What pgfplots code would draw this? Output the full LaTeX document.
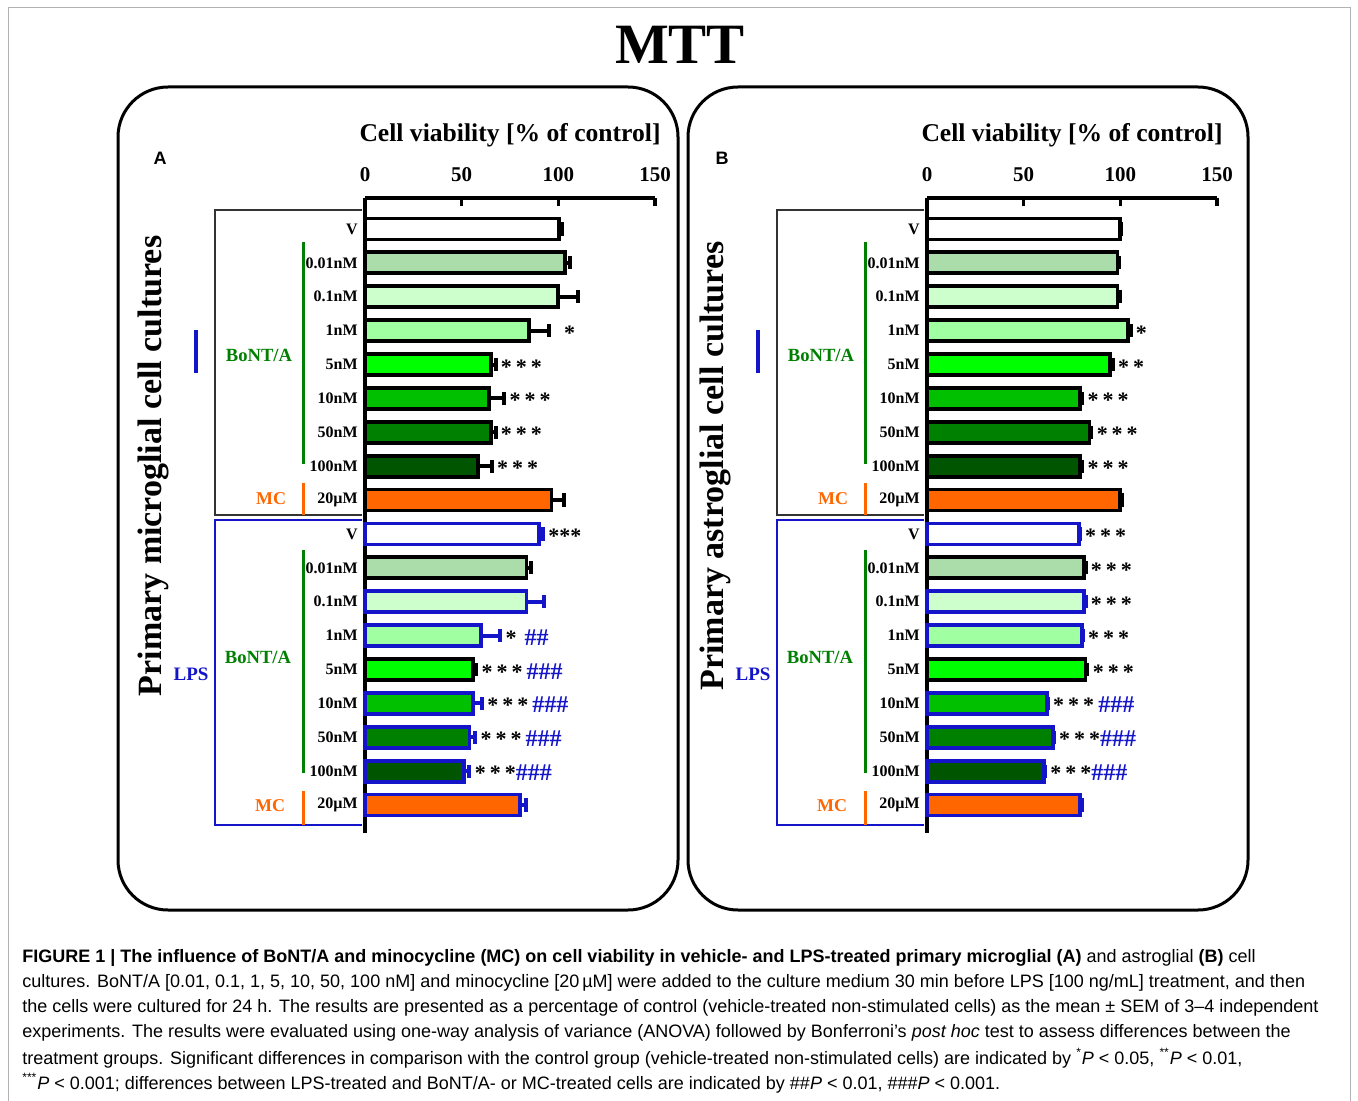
\documentclass[border=0pt]{standalone}
\usepackage{fontspec}
\setmainfont{Liberation Serif}
\newfontfamily\capfont{Liberation Sans}
\usepackage{pgfplots}
\pgfplotsset{compat=1.18}

\definecolor{lpsblue}{RGB}{20,20,200}
\definecolor{bgreen}{RGB}{0,128,0}
\definecolor{mcor}{RGB}{255,102,0}
\definecolor{cA}{RGB}{170,221,170}
\definecolor{cB}{RGB}{204,255,204}
\definecolor{cC}{RGB}{160,255,160}
\definecolor{cD}{RGB}{0,255,0}
\definecolor{cE}{RGB}{0,192,0}
\definecolor{cF}{RGB}{0,128,0}
\definecolor{cG}{RGB}{0,85,0}

\newcommand{\sss}{*\hspace{2pt}*\hspace{2pt}*}
\newcommand{\hh}[1]{\textcolor{lpsblue}{\fontsize{12}{12}\selectfont #1}}

\pgfplotsset{
  hb/.style 2 args={xbar, bar width=10.5pt, bar shift=0pt, line width=1.9pt, fill=#1, draw=#2,
    error bars/.cd, x dir=plus, x explicit, error mark=|,
    error bar style={line width=2pt, draw=#2},
    error mark options={line width=2pt, mark size=3.3pt, draw=#2}},
  panel/.style={
    scale only axis, width=145pt, height=317.5pt,
    anchor=north west,
    xmin=0, xmax=150, ymin=0.174, ymax=18.914,
    axis x line*=top, axis y line*=left,
    axis line style={line width=1.7pt},
    xtick={0,50,100,150}, tick align=inside, major tick length=4pt,
    xtick style={line width=1.7pt, black},
    ytick={1,...,18}, ytick style={draw=none},
    yticklabels={20µM,100nM,50nM,10nM,5nM,1nM,0.1nM,0.01nM,V,20µM,100nM,50nM,10nM,5nM,1nM,0.1nM,0.01nM,V},
    yticklabel style={font=\bfseries\fontsize{8}{9}\selectfont, anchor=east, inner sep=0pt, xshift=-3.5pt},
    xticklabel style={font=\bfseries\fontsize{10.5}{12}\selectfont, yshift=4.5pt},
    /pgf/number format/assume math mode=true,
    xlabel={Cell viability [\% of control]},
    xlabel style={font=\bfseries\fontsize{12.8}{14}\selectfont, at={(axis description cs:0.5,1)}, anchor=center, yshift=31.5pt},
    clip=false,
  },
}
\tikzset{ann/.style={anchor=base west, inner sep=0pt, xshift=2.5pt, yshift=-4.8pt, font=\bfseries\fontsize{11}{12}\selectfont}}

\begin{document}
\begin{tikzpicture}[x=0.5pt,y=-0.5pt]
\useasboundingbox (0,0) rectangle (1358,1101);
\coordinate (pA) at (365,198);
\coordinate (pB) at (927,198);
% outer frame
\draw[gray!60, line width=0.5pt] (8,1101) -- (8,8) -- (1350,8) -- (1350,1101);
% title
\node[font=\bfseries\fontsize{28.5}{30}\selectfont] at (680,45) {MTT};
% rounded boxes
\draw[line width=1.5pt, rounded corners=25pt] (118,87) rectangle (678,910);
\draw[line width=1.5pt, rounded corners=25pt] (688,87) rectangle (1248,910);

% ---------- Panel A ----------
\begin{axis}[panel, at={(pA)}]
\addplot[hb={white}{black}] coordinates {(100.5,18) +- (1.5,0)};
\addplot[hb={cA}{black}] coordinates {(103.5,17) +- (2.5,0)};
\addplot[hb={cB}{black}] coordinates {(100,16) +- (10,0)};
\addplot[hb={cC}{black}] coordinates {(85,15) +- (10,0)};
\addplot[hb={cD}{black}] coordinates {(65,14) +- (2.5,0)};
\addplot[hb={cE}{black}] coordinates {(64,13) +- (8,0)};
\addplot[hb={cF}{black}] coordinates {(65,12) +- (2.5,0)};
\addplot[hb={cG}{black}] coordinates {(58.5,11) +- (7,0)};
\addplot[hb={mcor}{black}] coordinates {(96.5,10) +- (6.5,0)};
\addplot[hb={white}{lpsblue}] coordinates {(90,9) +- (2,0)};
\addplot[hb={cA}{black}] coordinates {(83.5,8) +- (2.5,0)};
\addplot[hb={cB}{lpsblue}] coordinates {(83.5,7) +- (9,0)};
\addplot[hb={cC}{lpsblue}] coordinates {(60,6) +- (10,0)};
\addplot[hb={cD}{black}] coordinates {(56,5) +- (1.5,0)};
\addplot[hb={cE}{lpsblue}] coordinates {(56,4) +- (4.5,0)};
\addplot[hb={cF}{lpsblue}] coordinates {(54,3) +- (3,0)};
\addplot[hb={cG}{lpsblue}] coordinates {(51,2) +- (3,0)};
\addplot[hb={mcor}{lpsblue}] coordinates {(80,1) +- (3.5,0)};
\node[ann, xshift=5pt] at (axis cs:95,15) {*};
\node[ann] at (axis cs:67.5,14) {\sss};
\node[ann] at (axis cs:72,13) {\sss};
\node[ann] at (axis cs:67.5,12) {\sss};
\node[ann] at (axis cs:65.5,11) {\sss};
\node[ann] at (axis cs:92,9) {***};
\node[ann] at (axis cs:70,6) {*\hspace{4pt}\hh{\#\#}};
\node[ann] at (axis cs:57.5,5) {\sss\hspace{2pt}\hh{\#\#\#}};
\node[ann] at (axis cs:60.5,4) {\sss\hspace{2pt}\hh{\#\#\#}};
\node[ann] at (axis cs:57,3) {\sss\hspace{2pt}\hh{\#\#\#}};
\node[ann] at (axis cs:54,2) {\sss\hh{\#\#\#}};
\end{axis}

% ---------- Panel B ----------
\begin{axis}[panel, at={(pB)}]
\addplot[hb={white}{black}] coordinates {(100,18) +- (0.5,0)};
\addplot[hb={cA}{black}] coordinates {(98.5,17) +- (1,0)};
\addplot[hb={cB}{black}] coordinates {(98.5,16) +- (1.5,0)};
\addplot[hb={cC}{black}] coordinates {(104,15) +- (1.3,0)};
\addplot[hb={cD}{black}] coordinates {(94.5,14) +- (1.5,0)};
\addplot[hb={cE}{black}] coordinates {(79,13) +- (1.3,0)};
\addplot[hb={cF}{black}] coordinates {(84,12) +- (1,0)};
\addplot[hb={cG}{black}] coordinates {(79,11) +- (1.3,0)};
\addplot[hb={mcor}{black}] coordinates {(100,10) +- (1,0)};
\addplot[hb={white}{lpsblue}] coordinates {(78.5,9) +- (0.5,0)};
\addplot[hb={cA}{black}] coordinates {(81,8) +- (1,0)};
\addplot[hb={cB}{lpsblue}] coordinates {(81,7) +- (1,0)};
\addplot[hb={cC}{lpsblue}] coordinates {(80,6) +- (0.5,0)};
\addplot[hb={cD}{black}] coordinates {(82,5) +- (1,0)};
\addplot[hb={cE}{lpsblue}] coordinates {(62,4) +- (0.5,0)};
\addplot[hb={cF}{lpsblue}] coordinates {(65,3) +- (0.5,0)};
\addplot[hb={cG}{lpsblue}] coordinates {(60.5,2) +- (0.5,0)};
\addplot[hb={mcor}{lpsblue}] coordinates {(79,1) +- (1.3,0)};
\node[ann] at (axis cs:105.3,15) {*};
\node[ann] at (axis cs:96,14) {*\hspace{2pt}*};
\node[ann] at (axis cs:80.3,13) {\sss};
\node[ann] at (axis cs:85,12) {\sss};
\node[ann] at (axis cs:80.3,11) {\sss};
\node[ann] at (axis cs:79,9) {\sss};
\node[ann] at (axis cs:82,8) {\sss};
\node[ann] at (axis cs:82,7) {\sss};
\node[ann] at (axis cs:80.5,6) {\sss};
\node[ann] at (axis cs:83,5) {\sss};
\node[ann] at (axis cs:62.5,4) {\sss\hspace{2pt}\hh{\#\#\#}};
\node[ann] at (axis cs:65.5,3) {\sss\hh{\#\#\#}};
\node[ann] at (axis cs:61,2) {\sss\hh{\#\#\#}};
\end{axis}

% ---------- decorations (both panels) ----------
\foreach \dx/\lab/\cult in {0/A/microglial, 562/B/astroglial}{
  \begin{scope}[xshift=\dx*0.5pt]
  \node[font=\capfont\bfseries\fontsize{9}{10}\selectfont] at (160,158) {\lab};
  \node[rotate=90, font=\bfseries\fontsize{17}{20}\selectfont] at (153,466) {Primary \cult\ cell cultures};
  \draw[line width=0.75pt, black!80] (362,210) -- (215,210) -- (215,515) -- (362,515);
  \draw[line width=0.75pt, lpsblue] (362,520) -- (215,520) -- (215,825) -- (362,825);
  \draw[line width=1.5pt, bgreen] (303,242) -- (303,464);
  \draw[line width=1.5pt, bgreen] (303,550) -- (303,773);
  \draw[line width=1.5pt, mcor] (303,483) -- (303,515);
  \draw[line width=1.5pt, mcor] (303,791) -- (303,825);
  \draw[line width=2pt, lpsblue] (196,330) -- (196,373);
  \node[font=\bfseries\fontsize{9.3}{10}\selectfont, text=bgreen] at (259,355) {BoNT/A};
  \node[font=\bfseries\fontsize{9.3}{10}\selectfont, text=bgreen] at (258,657) {BoNT/A};
  \node[font=\bfseries\fontsize{9}{10}\selectfont, text=mcor] at (271,499) {MC};
  \node[font=\bfseries\fontsize{9}{10}\selectfont, text=mcor] at (270,806) {MC};
  \node[font=\bfseries\fontsize{9.5}{10}\selectfont, text=lpsblue] at (191,674) {LPS};
  \end{scope}
}

% ---------- caption ----------
\begin{scope}[every node/.style={anchor=west, inner sep=0pt, font=\capfont\fontsize{9}{10}\selectfont}]
\node at (22,958) {\textbf{FIGURE 1 | The influence of BoNT/A and minocycline (MC) on cell viability in vehicle- and LPS-treated primary microglial (A)} and astroglial \textbf{(B)} cell};
\node at (22,983) {cultures. BoNT/A [0.01, 0.1, 1, 5, 10, 50, 100 nM] and minocycline [20\,µM] were added to the culture medium 30 min before LPS [100 ng/mL] treatment, and then};
\node at (22,1008) {the cells were cultured for 24 h. The results are presented as a percentage of control (vehicle-treated non-stimulated cells) as the mean ± SEM of 3–4 independent};
\node at (22,1033) {experiments. The results were evaluated using one-way analysis of variance (ANOVA) followed by Bonferroni’s \textit{post hoc} test to assess differences between the};
\node at (22,1058) {treatment groups. Significant differences in comparison with the control group (vehicle-treated non-stimulated cells) are indicated by \textsuperscript{*}\textit{P} < 0.05, \textsuperscript{**}\textit{P} < 0.01,};
\node at (22,1083) {\textsuperscript{***}\textit{P} < 0.001; differences between LPS-treated and BoNT/A- or MC-treated cells are indicated by \#\#\textit{P} < 0.01, \#\#\#\textit{P} < 0.001.};
\end{scope}
\end{tikzpicture}
\end{document}
